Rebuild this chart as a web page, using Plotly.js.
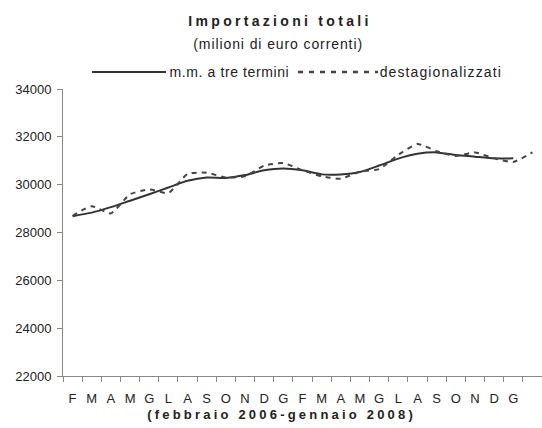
<!DOCTYPE html>
<html>
<head>
<meta charset="utf-8">
<script src="https://cdn.plot.ly/plotly-3.0.1.min.js"></script>
<style>
  html, body { margin: 0; padding: 0; background: #fff; }
  #chart { width: 542px; height: 428px; }
  .gtitle { letter-spacing: 3.3px; }
  .annotation[data-index="0"] text { letter-spacing: 0.9px; }
  .annotation[data-index="1"] text { letter-spacing: 0.6px; }
  .annotation[data-index="2"] text { letter-spacing: 1.1px; }
  .annotation[data-index="3"] text { letter-spacing: 3.2px; }
</style>
</head>
<body>
<div id="chart"></div>
<script>
// Month initials (febbraio 2006 - gennaio 2008); last slot = febbraio 2008 (cut off, unlabeled)
const monthLabels = ["F","M","A","M","G","L","A","S","O","N","D","G",
                     "F","M","A","M","G","L","A","S","O","N","D","G",""];
// m.m. a tre termini (milioni di euro)
const mmTreTermini = [28680, 28830, 29060, 29330, 29600, 29880, 30160, 30300, 30280, 30400, 30600, 30680,
                      30600, 30430, 30430, 30530, 30800, 31090, 31290, 31350, 31240, 31170, 31100, 31100];
// destagionalizzati (milioni di euro)
const destagionalizzati = [28700, 29100, 28800, 29600, 29800, 29650, 30450, 30500, 30300, 30350, 30800, 30900,
                           30600, 30350, 30250, 30550, 30650, 31250, 31700, 31400, 31200, 31350, 31100, 30950, 31350];
const yTicks = [22000, 24000, 26000, 28000, 30000, 32000, 34000];

const idxAll = monthLabels.map((_, i) => i);
const idxMM = mmTreTermini.map((_, i) => i);

const FONT = "Liberation Sans, Arial, sans-serif";
const TXT = "#222";

const traces = [
  {
    x: idxMM, y: mmTreTermini, type: "scatter", mode: "lines",
    name: "m.m. a tre termini",
    line: { color: "#333333", width: 2, shape: "spline", smoothing: 0.6 },
    hoverinfo: "skip"
  },
  {
    x: idxAll.slice(0, destagionalizzati.length), y: destagionalizzati, type: "scatter", mode: "lines",
    name: "destagionalizzati",
    line: { color: "#444444", width: 2, dash: "5px,5px", shape: "spline", smoothing: 0.5 },
    hoverinfo: "skip"
  }
];

// pixel -> paper helpers for header/legend placement
const L = 63, R = 542, T = 89, B = 376;
const px = v => (v - L) / (R - L);
const py = v => (B - v) / (B - T);

const layout = {
  width: 542, height: 428,
  margin: { l: L, r: 542 - R, t: T, b: 428 - B, pad: 0 },
  paper_bgcolor: "#ffffff", plot_bgcolor: "#ffffff",
  showlegend: false,
  font: { family: FONT, size: 13, color: TXT },
  title: {
    text: "<b>Importazioni totali</b>",
    font: { family: FONT, size: 14, color: TXT },
    x: 280 / 542, xanchor: "center", xref: "container",
    y: 1 - 21 / 428, yanchor: "middle", yref: "container"
  },
  xaxis: {
    range: [-0.5, 24.5],
    tickmode: "array", tickvals: idxAll, ticktext: monthLabels,
    ticks: "", showgrid: false, zeroline: false,
    showline: true, linecolor: "#888888", linewidth: 1,
    tickfont: { family: FONT, size: 13, color: TXT },
    ticklabelstandoff: 10,
    minor: { tickmode: "linear", tick0: -0.5, dtick: 1, ticks: "outside", ticklen: 5, tickcolor: "#888888", tickwidth: 1, showgrid: false }
  },
  yaxis: {
    range: [22000, 34000],
    tickmode: "array", tickvals: yTicks, ticktext: yTicks.map(String),
    ticks: "outside", ticklen: 5, tickcolor: "#888888", tickwidth: 1,
    showgrid: false, zeroline: false,
    showline: true, linecolor: "#888888", linewidth: 1,
    tickfont: { family: FONT, size: 13, color: TXT },
    ticklabelstandoff: 3
  },
  annotations: [
    { text: "(milioni di euro correnti)", xref: "paper", yref: "paper", x: px(278), y: py(44),
      xanchor: "center", yanchor: "middle", showarrow: false, font: { family: FONT, size: 14, color: TXT } },
    { text: "m.m. a tre termini", xref: "paper", yref: "paper", x: px(173), y: py(72),
      xanchor: "left", yanchor: "middle", showarrow: false, font: { family: FONT, size: 14, color: TXT } },
    { text: "destagionalizzati", xref: "paper", yref: "paper", x: px(387), y: py(72),
      xanchor: "left", yanchor: "middle", showarrow: false, font: { family: FONT, size: 14, color: TXT } },
    { text: "<b>(febbraio 2006-gennaio 2008)</b>", xref: "paper", yref: "paper", x: px(281), y: py(414),
      xanchor: "center", yanchor: "middle", showarrow: false, font: { family: FONT, size: 13, color: TXT } }
  ],
  shapes: [
    { type: "line", xref: "paper", yref: "paper", x0: px(92), x1: px(166), y0: py(72), y1: py(72),
      line: { color: "#333333", width: 2 } },
    { type: "line", xref: "paper", yref: "paper", x0: px(298), x1: px(378), y0: py(72), y1: py(72),
      line: { color: "#444444", width: 2.5, dash: "5px,6px" } }
  ]
};

Plotly.newPlot("chart", traces, layout, { displayModeBar: false, staticPlot: true });
</script>
</body>
</html>
